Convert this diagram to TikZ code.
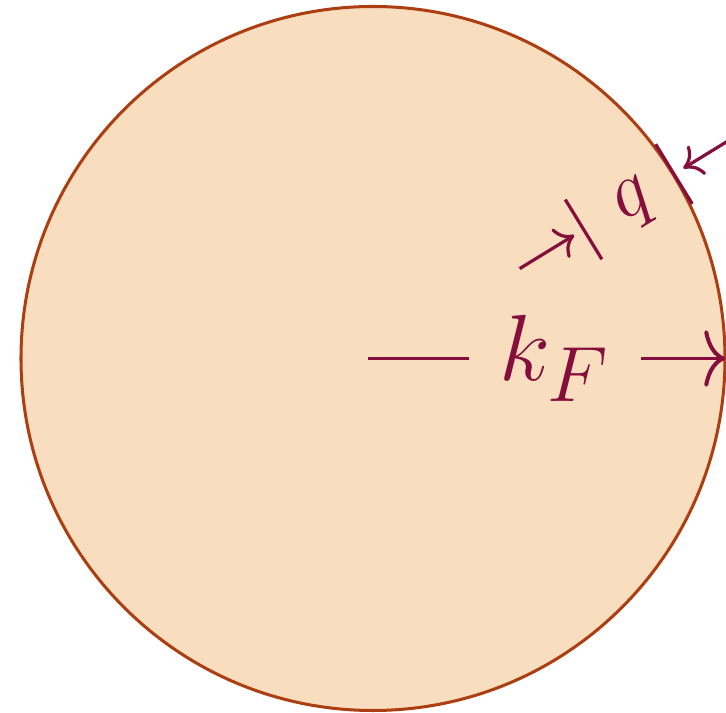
\documentclass[tikz,border=0pt]{standalone}
\usetikzlibrary{arrows.meta,calc}
\definecolor{fillpeach}{RGB}{248,222,191}
\definecolor{rimbrown}{RGB}{172,62,18}
\definecolor{arrowred}{RGB}{134,14,60}
\begin{document}
\begin{tikzpicture}[x=0.2647pt,y=0.2647pt,
  rim/.style={draw=rimbrown,line width=0.8pt,fill=fillpeach},
  dim/.style={draw=arrowred,line width=0.85pt},
  kftip/.style={-{Computer Modern Rightarrow[length=5.5pt,width=15pt]}},
  qtip/.style={-{Computer Modern Rightarrow[length=4.5pt,width=9pt]}},
  lbl/.style={text=arrowred,inner ysep=0pt}]
\useasboundingbox (-373,-354.5) rectangle (353,358.5);
\clip (-373,-354.5) rectangle (353,358.5);
\draw[rim] (0,0) circle[radius=352];
\coordinate (O) at (-5,0);
\coordinate (E) at (352,0);
\node[lbl,font=\Huge,inner xsep=8pt] (kF) at (182,0) {$k_F$};
\draw[dim,line width=1.05pt] (O) -- (kF.west);
\draw[dim,line width=1.05pt,kftip] (kF.east) -- (E);
% q marker
\coordinate (qo) at (31.5:353);
\coordinate (qi) at (31.5:247);
\coordinate (qoA) at ($(qo)+(121.5:35)$);
\coordinate (qoB) at ($(qo)+(-58.5:35)$);
\coordinate (qiA) at ($(qi)+(121.5:35)$);
\coordinate (qiB) at ($(qi)+(-58.5:35)$);
\draw[dim] (qoA) -- (qoB);
\draw[dim] (qiA) -- (qiB);
\coordinate (outS) at (31.5:460);
\coordinate (outE) at (31.5:364);
\coordinate (inS) at (31.5:172);
\coordinate (inE) at (31.5:236);
\draw[dim,qtip] (outS) -- (outE);
\draw[dim,qtip] (inS) -- (inE);
\node[lbl,font=\huge,inner sep=0pt,rotate=31.5] (q) at (30.5:305) {$q$};
\end{tikzpicture}
\end{document}
